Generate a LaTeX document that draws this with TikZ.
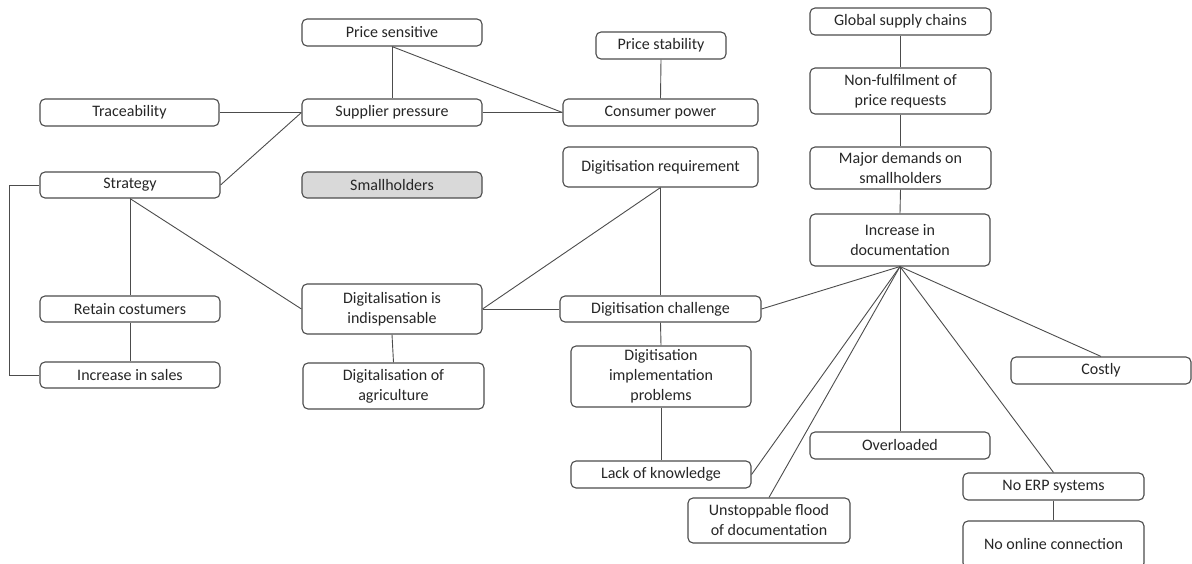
\documentclass[tikz,border=0pt]{standalone}
\usepackage{fontspec}
\setmainfont{Carlito}
\begin{document}
\begin{tikzpicture}[x=1pt,y=-1pt,
  box/.style={draw=black!70, line width=1.1pt, rounded corners=5pt, fill=white,
    align=center, inner sep=0pt, font=\fontsize{16}{20}\selectfont, text=black!85},
  link/.style={draw=black!70, line width=0.9pt}]
\useasboundingbox (0,0) rectangle (1192,564);
\clip (0,0) rectangle (1192,564);
\node[box, minimum width=180, minimum height=27] (ps) at (392,32.5) {Price sensitive};
\node[box, minimum width=130, minimum height=27] (pstab) at (661,45.5) {Price stability};
\node[box, minimum width=181, minimum height=27] (gsc) at (900.5,21.5) {Global supply chains};
\node[box, minimum width=179, minimum height=27] (trace) at (129.5,112.5) {Traceability};
\node[box, minimum width=180, minimum height=27] (sp) at (392,112.5) {Supplier pressure};
\node[box, minimum width=195, minimum height=27] (cp) at (660.5,112.5) {Consumer power};
\node[box, minimum width=181, minimum height=46] (nf) at (900.5,91) {Non-fulfilment of\\price requests};
\node[box, minimum width=180, minimum height=26] (strat) at (130,185) {Strategy};
\node[box, minimum width=180, minimum height=26, fill=black!15] (small) at (392,185) {Smallholders};
\node[box, minimum width=195, minimum height=40] (dreq) at (660.5,167) {Digitisation requirement};
\node[box, minimum width=181, minimum height=42] (md) at (900.5,168) {Major demands on\\smallholders};
\node[box, minimum width=180, minimum height=52] (incdoc) at (900,240) {Increase in\\documentation};
\node[box, minimum width=180, minimum height=26] (retain) at (130,309) {Retain costumers};
\node[box, minimum width=180, minimum height=50] (dind) at (392,309) {Digitalisation is\\indispensable};
\node[box, minimum width=201, minimum height=26] (dchal) at (660.5,309) {Digitisation challenge};
\node[box, minimum width=181, minimum height=46] (dagri) at (393.5,386) {Digitalisation of\\agriculture};
\node[box, minimum width=180, minimum height=26] (sales) at (130,375) {Increase in sales};
\node[box, minimum width=180, minimum height=61] (dimp) at (661,376.5) {Digitisation\\implementation\\problems};
\node[box, minimum width=180, minimum height=27] (costly) at (1101,370.5) {Costly};
\node[box, minimum width=180, minimum height=27] (over) at (900,445.5) {Overloaded};
\node[box, minimum width=180, minimum height=27] (lack) at (661,474.5) {Lack of knowledge};
\node[box, minimum width=181, minimum height=27] (erp) at (1053.5,486.5) {No ERP systems};
\node[box, minimum width=162, minimum height=45] (flood) at (769,520.5) {Unstoppable flood\\of documentation};
\node[box, minimum width=181, minimum height=47] (online) at (1053.5,544.5) {No online connection};
\coordinate (lb) at (9,185);
\draw[link] (ps.south) -- (sp.north);
\draw[link] (ps.south) -- (cp.west);
\draw[link] (pstab.south) -- (cp.north);
\draw[link] (sp.east) -- (cp.west);
\draw[link] (trace.east) -- (sp.west);
\draw[link] (strat.east) -- (sp.west);
\draw[link] (strat.west) -- (lb) |- (sales.west);
\draw[link] (strat.south) -- (retain.north);
\draw[link] (retain.south) -- (sales.north);
\draw[link] (strat.south) -- (dind.west);
\draw[link] (dind.south) -- (dagri.north);
\draw[link] (dreq.south) -- (dind.east);
\draw[link] (dreq.south) -- (dchal.north);
\draw[link] (dind.east) -- (dchal.west);
\draw[link] (dchal.south) -- (dimp.north);
\draw[link] (dimp.south) -- (lack.north);
\draw[link] (gsc.south) -- (nf.north);
\draw[link] (nf.south) -- (md.north);
\draw[link] (md.south) -- (incdoc.north);
\draw[link] (incdoc.south) -- (dchal.east);
\draw[link] (incdoc.south) -- (lack.east);
\draw[link] (incdoc.south) -- (flood.north);
\draw[link] (incdoc.south) -- (over.north);
\draw[link] (incdoc.south) -- (erp.north);
\draw[link] (incdoc.south) -- (costly.north);
\draw[link] (erp.south) -- (online.north);
\end{tikzpicture}
\end{document}
